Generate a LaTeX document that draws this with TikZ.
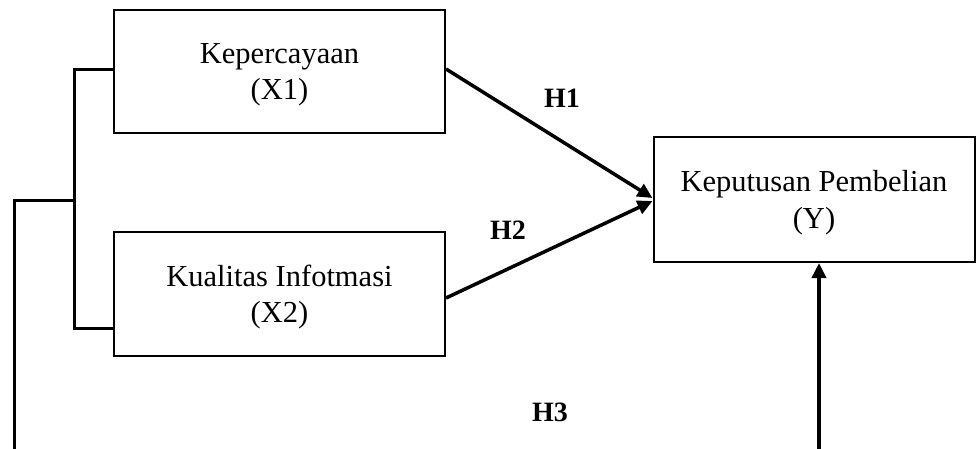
\documentclass[tikz,border=0pt]{standalone}
\usepackage{fontspec}
\setmainfont{Liberation Serif}
\usetikzlibrary{arrows.meta}
\begin{document}
\begin{tikzpicture}[x=1pt,y=-1pt,
  varbox/.style={draw,line width=2pt,inner sep=0pt,align=center,
    font=\fontsize{30.5}{36.5}\selectfont,text depth=0pt},
  hlabel/.style={font=\fontsize{28}{30}\selectfont\bfseries},
  link/.style={line width=3pt},
  arr/.style={line width=3.5pt,-{Triangle[length=15pt,width=14pt]}}]
\useasboundingbox (0,0) rectangle (976,449);
\node[varbox,minimum width=331pt,minimum height=123pt] (x1) at (279.5,71.5) {Kepercayaan\\(X1)};
\node[varbox,minimum width=331pt,minimum height=124pt] (x2) at (279.5,294) {Kualitas Infotmasi\\(X2)};
\node[varbox,minimum width=321pt,minimum height=125pt] (y) at (814,199.5) {Keputusan Pembelian\\(Y)};
\coordinate (bt) at (74,70);
\coordinate (bb) at (74,328);
\coordinate (bm) at (74,200);
\coordinate (lm) at (14,200);
\coordinate (lb) at (14,449);
\coordinate (ab) at (819,449);
\draw[link] (x1.west |- bt) -- (bt) -- (bb) -- (x2.west |- bb);
\draw[link] (bm) -- (lm) -- (lb);
\draw[arr] (x1.east |- 0,69) -- (y.west |- 0,198);
\draw[arr] (x2.east |- 0,298) -- (y.west |- 0,201);
\draw[arr] (ab) -- (y.south -| ab);
\node[hlabel] (h1) at (562,98) {H1};
\node[hlabel] (h2) at (508,230) {H2};
\node[hlabel] (h3) at (550,412) {H3};
\end{tikzpicture}
\end{document}
